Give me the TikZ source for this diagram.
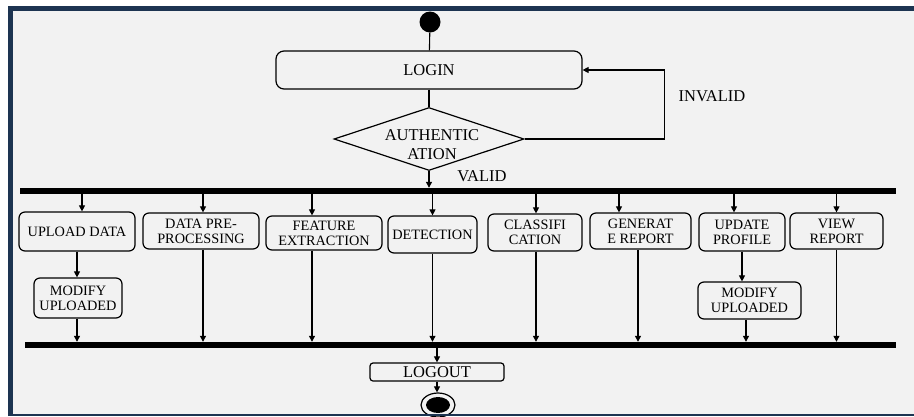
\documentclass[tikz,border=0pt]{standalone}
\usepackage{fontspec}
\setmainfont{Liberation Serif}
\usetikzlibrary{arrows.meta,shapes.geometric}
\definecolor{framenavy}{HTML}{1D3451}
\definecolor{paper}{HTML}{F2F2F2}

\begin{document}
\begin{tikzpicture}[x=1pt,y=-1pt,
    every node/.style={font=\fontsize{14.3}{15}\selectfont},
    bigtext/.style={font=\fontsize{16.5}{18}\selectfont},
    act/.style={draw,rounded corners=6pt,line width=1.2pt,align=center,inner sep=0pt},
    bar/.style={fill=black,inner sep=0pt,minimum height=6pt},
    arr/.style={-{Triangle[length=6pt,width=6pt]},line width=1.1pt}]
    \useasboundingbox (0,0) rectangle (914,416);
    \fill[white] (0,0) rectangle (914,416);
    \fill[paper] (8,6) rectangle (914,416);

    % nodes
    \node[circle,fill=black,minimum size=21pt,inner sep=0pt] (start) at (430,22) {};
    \node[act,bigtext,rounded corners=8pt,minimum width=306pt,minimum height=38pt] (login) at (429,70) {LOGIN};
    \node[diamond,draw,line width=1.2pt,inner sep=0pt,aspect=3,
          minimum width=190pt,minimum height=63pt] (auth) at (429,139) {};
    \node[bigtext,align=center] (authtext) at (432,145) {AUTHENTIC\\[1pt]ATION};
    \node[bigtext] (invalid) at (712,96) {INVALID};
    \node[bigtext] (valid) at (482,176) {VALID};

    \node[bar,minimum width=876pt] (fork) at (458,191) {};

    \node[act,minimum width=116pt,minimum height=39pt] (upload) at (77,231.5) {UPLOAD DATA};
    \node[act,minimum width=116pt,minimum height=36pt] (prep) at (201,231) {DATA PRE-\\PROCESSING};
    \node[act,minimum width=116pt,minimum height=34pt] (feat) at (324,233) {FEATURE\\EXTRACTION};
    \node[act,minimum width=89pt,minimum height=37pt] (detect) at (432.5,234.5) {DETECTION};
    \node[act,minimum width=94pt,minimum height=37pt] (classif) at (535,232.5) {CLASSIFI\\CATION};
    \node[act,minimum width=101pt,minimum height=36pt] (genrep) at (640.5,231) {GENERAT\\E REPORT};
    \node[act,minimum width=86pt,minimum height=38pt] (updprof) at (742,232) {UPDATE\\PROFILE};
    \node[act,minimum width=93pt,minimum height=36pt] (viewrep) at (836.5,231) {VIEW\\REPORT};

    \node[act,minimum width=88pt,minimum height=40pt] (modleft) at (78,298) {MODIFY\\UPLOADED};
    \node[act,minimum width=103pt,minimum height=37pt] (modright) at (749.5,300.5) {MODIFY\\UPLOADED};

    \node[bar,minimum width=871pt] (join) at (460.5,345) {};

    \node[act,bigtext,rounded corners=3pt,minimum width=134pt,minimum height=18pt] (logout) at (437,372) {LOGOUT};
    \node[ellipse,draw,line width=1.2pt,minimum width=34pt,minimum height=24pt,inner sep=0pt] (stop) at (438,405) {};
    \node[ellipse,fill=black,minimum width=24pt,minimum height=16pt,inner sep=0pt] (stopdot) at (stop) {};

    % edges
    \draw[line width=1.1pt] (start) -- (login);
    \draw[line width=1.1pt] (login) -- (auth);
    \draw[arr] (auth.east) -- ++(140,0) |- (login.east);
    \draw[arr] (auth.south) -- (auth.south |- fork.north);

    \draw[arr] ([xshift=5pt]upload.north |- fork.south) -- ([xshift=5pt]upload.north);
    \draw[arr] ([xshift=2pt]prep.north |- fork.south) -- ([xshift=2pt]prep.north);
    \draw[arr] ([xshift=-12pt]feat.north |- fork.south) -- ([xshift=-12pt]feat.north);
    \draw[arr] (detect.north |- fork.south) -- (detect.north);
    \draw[arr] ([xshift=1pt]classif.north |- fork.south) -- ([xshift=1pt]classif.north);
    \draw[arr] ([xshift=-21.5pt]genrep.north |- fork.south) -- ([xshift=-21.5pt]genrep.north);
    \draw[arr] ([xshift=-8pt]updprof.north |- fork.south) -- ([xshift=-8pt]updprof.north);
    \draw[arr] (viewrep.north |- fork.south) -- (viewrep.north);

    \draw[arr] (upload.south) -- (upload.south |- modleft.north);
    \draw[arr] (updprof.south) -- (updprof.south |- modright.north);

    \draw[arr] ([xshift=-1pt]modleft.south) -- ([xshift=-1pt]modleft.south |- join.north);
    \draw[arr] ([xshift=2pt]prep.south) -- ([xshift=2pt]prep.south |- join.north);
    \draw[arr] ([xshift=-12pt]feat.south) -- ([xshift=-12pt]feat.south |- join.north);
    \draw[arr] (detect.south) -- (detect.south |- join.north);
    \draw[arr] ([xshift=1pt]classif.south) -- ([xshift=1pt]classif.south |- join.north);
    \draw[arr] ([xshift=-2.5pt]genrep.south) -- ([xshift=-2.5pt]genrep.south |- join.north);
    \draw[arr] ([xshift=-3.5pt]modright.south) -- ([xshift=-3.5pt]modright.south |- join.north);
    \draw[arr] (viewrep.south) -- (viewrep.south |- join.north);

    \draw[arr] (logout.north |- join.south) -- (logout.north);
    \draw[arr] (logout.south) -- (logout.south |- stop.north);

    % frame
    \draw[framenavy,line width=5pt] (10.5,416) -- (10.5,8.5) -- (914,8.5);
    \draw[framenavy,line width=2pt] (8,415) -- (914,415);
\end{tikzpicture}
\end{document}
